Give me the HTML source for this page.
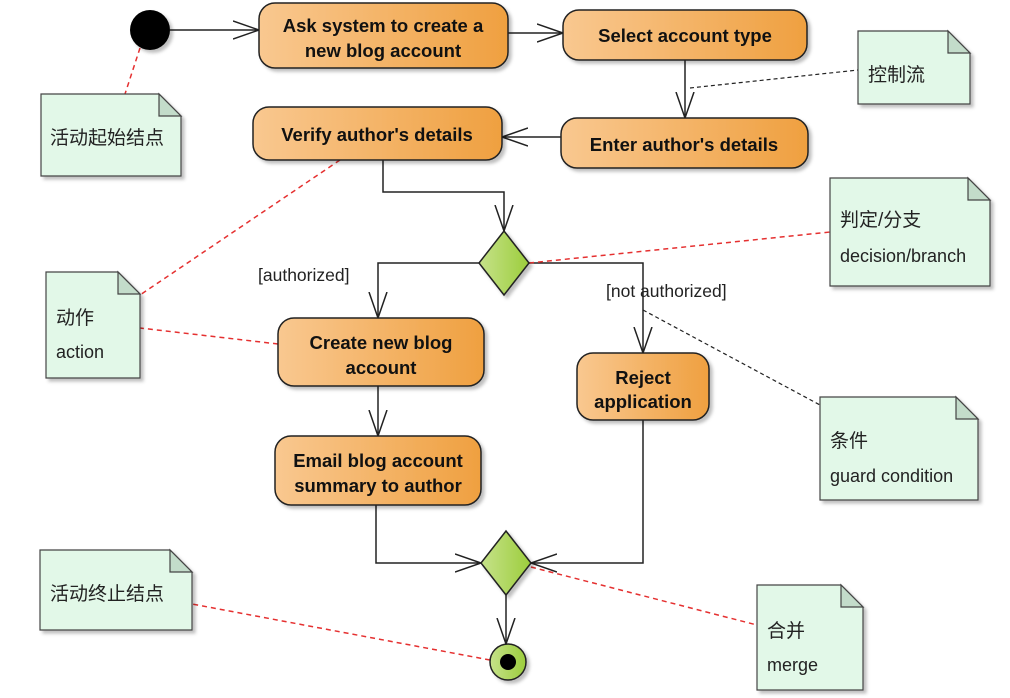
<!DOCTYPE html>
<html><head><meta charset="utf-8"><style>
html,body{margin:0;padding:0;background:#fff}
svg{display:block}
.a{font-family:"Liberation Sans",Arial,sans-serif;font-weight:bold;font-size:18.5px;fill:#111;text-anchor:middle}
.n{font-family:"Liberation Sans","Noto Sans CJK SC",sans-serif;font-size:18px;fill:#222}
.c{font-family:"Liberation Sans","Noto Sans CJK SC",sans-serif;font-size:19px;fill:#222}
.g{font-family:"Liberation Sans",sans-serif;font-size:17.5px;fill:#222}
</style></head><body>
<svg width="1010" height="698" viewBox="0 0 1010 698" xmlns="http://www.w3.org/2000/svg">
<defs>
<linearGradient id="o" x1="0" x2="1"><stop offset="0" stop-color="#f9c890"/><stop offset="1" stop-color="#efa040"/></linearGradient>
<linearGradient id="gr" x1="0" x2="1"><stop offset="0" stop-color="#c6e28a"/><stop offset="1" stop-color="#9ccd3c"/></linearGradient>
<marker id="ar" markerWidth="30" markerHeight="20" refX="26" refY="10" orient="auto" markerUnits="userSpaceOnUse"><path d="M0,1 L26,10 L0,19" fill="none" stroke="#222" stroke-width="1.5"/></marker>
<filter id="sh" x="-10%" y="-10%" width="130%" height="130%"><feDropShadow dx="3" dy="3" stdDeviation="1.5" flood-color="#000" flood-opacity="0.25"/></filter>
</defs>
<g stroke="#222" stroke-width="1.5" fill="none">
<path d="M170,30 H259" marker-end="url(#ar)"/>
<path d="M508,33 H563" marker-end="url(#ar)"/>
<path d="M685,60 V118" marker-end="url(#ar)"/>
<path d="M561,137 H502" marker-end="url(#ar)"/>
<path d="M383,160 V192 H504 V231" marker-end="url(#ar)"/>
<path d="M479,263 H378 V318" marker-end="url(#ar)"/>
<path d="M529,263 H643 V353" marker-end="url(#ar)"/>
<path d="M378,386 V436" marker-end="url(#ar)"/>
<path d="M376,505 V563 H481" marker-end="url(#ar)"/>
<path d="M643,420 V563 H531" marker-end="url(#ar)"/>
<path d="M506,595 V644" marker-end="url(#ar)"/>
</g>
<g stroke="#e53030" stroke-width="1.5" stroke-dasharray="5,4" fill="none">
<path d="M140,48 L125,94"/><path d="M340,160 L140,295"/><path d="M278,344 L140,328"/>
<path d="M529,263 L830,232"/><path d="M531,567 L757,625"/><path d="M490,660 L192,604"/>
</g>
<g stroke="#222" stroke-width="1.2" stroke-dasharray="4,3" fill="none">
<path d="M690,88 L858,70"/><path d="M643,310 L820,405"/>
</g>
<circle cx="150" cy="30" r="20" fill="#000" filter="url(#sh)"/>
<g stroke="#222" stroke-width="1.5" fill="url(#o)" filter="url(#sh)">
<rect x="259" y="3" width="249" height="65" rx="16"/>
<rect x="563" y="10" width="244" height="50" rx="16"/>
<rect x="561" y="118" width="247" height="50" rx="16"/>
<rect x="253" y="107" width="249" height="53" rx="16"/>
<rect x="278" y="318" width="206" height="68" rx="16"/>
<rect x="577" y="353" width="132" height="67" rx="16"/>
<rect x="275" y="436" width="206" height="69" rx="16"/>
</g>
<g stroke="#222" stroke-width="1.5" fill="url(#gr)" filter="url(#sh)">
<path d="M504,231 L529,263 L504,295 L479,263Z"/>
<path d="M506,531 L531,563 L506,595 L481,563Z"/>
<circle cx="508" cy="662" r="18"/>
</g>
<circle cx="508" cy="662" r="8" fill="#000"/>
<text class="a" x="383" y="32">Ask system to create a</text>
<text class="a" x="383" y="57">new blog account</text>
<text class="a" x="685" y="42">Select account type</text>
<text class="a" x="684" y="151">Enter author's details</text>
<text class="a" x="377" y="141">Verify author's details</text>
<text class="a" x="381" y="349">Create new blog</text>
<text class="a" x="381" y="374">account</text>
<text class="a" x="643" y="384">Reject</text>
<text class="a" x="643" y="408">application</text>
<text class="a" x="378" y="467">Email blog account</text>
<text class="a" x="378" y="492">summary to author</text>
<text class="g" x="258" y="281">[authorized]</text>
<text class="g" x="606" y="297">[not authorized]</text>
<g stroke="#444" stroke-width="1.2" filter="url(#sh)">
<path d="M41,94 H159 L181,116 V176 H41Z" fill="#e2f8e8"/>
<path d="M858,31 H948 L970,53 V104 H858Z" fill="#e2f8e8"/>
<path d="M830,178 H968 L990,200 V286 H830Z" fill="#e2f8e8"/>
<path d="M46,272 H118 L140,294 V378 H46Z" fill="#e2f8e8"/>
<path d="M820,397 H956 L978,419 V500 H820Z" fill="#e2f8e8"/>
<path d="M40,550 H170 L192,572 V630 H40Z" fill="#e2f8e8"/>
<path d="M757,585 H841 L863,607 V690 H757Z" fill="#e2f8e8"/>
</g>
<g stroke="#444" stroke-width="1.2" fill="#c3dcca">
<path d="M159,94 V116 H181Z"/><path d="M948,31 V53 H970Z"/><path d="M968,178 V200 H990Z"/>
<path d="M118,272 V294 H140Z"/><path d="M956,397 V419 H978Z"/><path d="M170,550 V572 H192Z"/><path d="M841,585 V607 H863Z"/>
</g>
<text class="c" x="50" y="144">活动起始结点</text>
<text class="c" x="868" y="81">控制流</text>
<text class="c" x="840" y="226">判定/分支</text>
<text class="n" x="840" y="262">decision/branch</text>
<text class="c" x="56" y="324">动作</text>
<text class="n" x="56" y="358">action</text>
<text class="c" x="830" y="447">条件</text>
<text class="n" x="830" y="482">guard condition</text>
<text class="c" x="50" y="600">活动终止结点</text>
<text class="c" x="767" y="637">合并</text>
<text class="n" x="767" y="671">merge</text>
</svg>
</body></html>
